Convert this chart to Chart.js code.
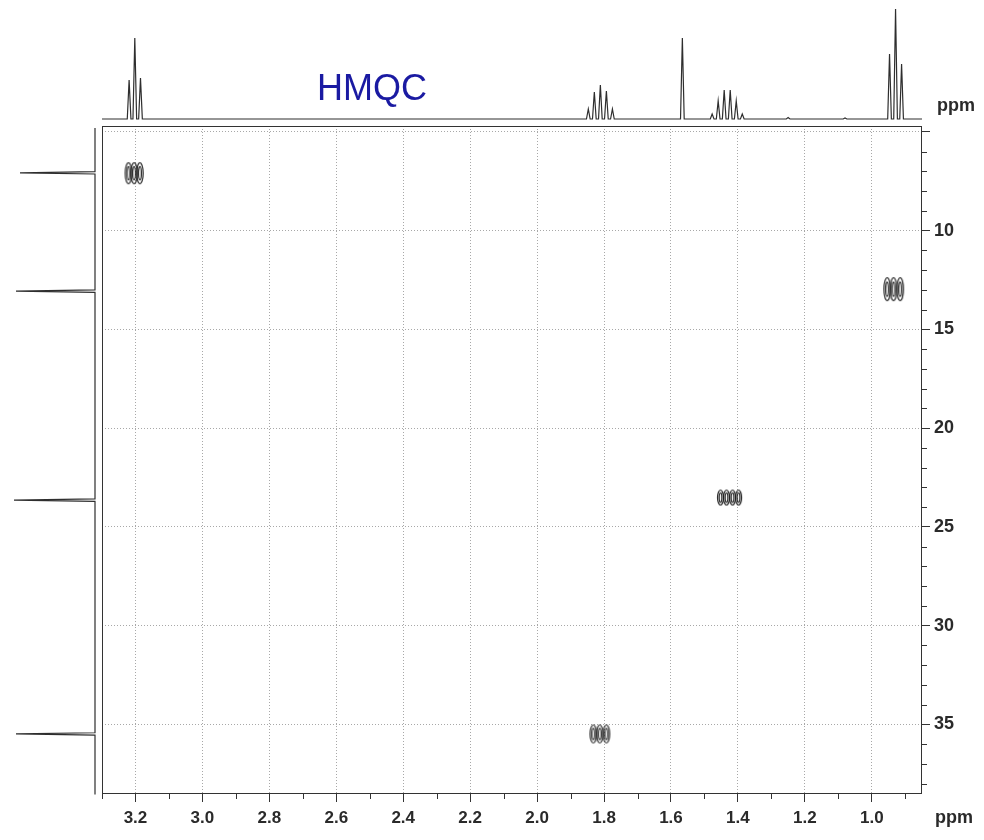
<!DOCTYPE html>
<html>
<head>
<meta charset="utf-8">
<script src="https://cdn.jsdelivr.net/npm/chart.js@4.4.1/dist/chart.umd.min.js"></script>
<style>
  html, body { margin: 0; padding: 0; background: #ffffff; }
  #wrap { position: relative; width: 984px; height: 840px; }
</style>
</head>
<body>
<div id="wrap"><canvas id="c" width="984" height="840"></canvas></div>
<script>
// ---------------- data ----------------
// 1H projection (top): line positions (ppm) and relative heights
const hShifts  = [3.219, 3.202, 3.185, 1.847, 1.829, 1.811, 1.793, 1.775, 1.566,
                  1.477, 1.459, 1.441, 1.423, 1.405, 1.387, 1.25, 1.08, 0.947, 0.929, 0.911];
const hHeights = [39, 81, 41, 10, 27, 34, 28, 10, 81,
                  5, 18, 29, 29, 18, 5, 1.5, 1, 65, 110, 55];
// 13C projection (left): positions (ppm) and relative heights
const cShifts  = [7.07, 13.06, 23.64, 35.48];
const cHeights = [75, 79, 81, 79];
// HMQC cross peaks: carbon shift and the 1H lobe positions of each
const crossC   = [7.09, 12.96, 23.51, 35.48];
const crossH   = [[3.221, 3.204, 3.187], [0.954, 0.935, 0.915],
                  [1.452, 1.434, 1.416, 1.398], [1.832, 1.813, 1.793]];
// axis ticks
const xTickValues = [3.2, 3.0, 2.8, 2.6, 2.4, 2.2, 2.0, 1.8, 1.6, 1.4, 1.2, 1.0];
const yTickValues = [5, 10, 15, 20, 25, 30, 35];
const yTickLabels = ['', '10', '15', '20', '25', '30', '35'];
const titleText = 'HMQC';
const unitText = 'ppm';

// ---------------- build tables for the library ----------------
const X_MIN = 0.85, X_MAX = 3.30, Y_MIN = 4.70, Y_MAX = 38.52;
const H_HW = 0.0055, C_HW = 0.06;

function buildTop() {
  const idx = hShifts.map((_, i) => i).sort((a, b) => hShifts[b] - hShifts[a]);
  const pts = [{x: X_MAX, y: 0}];
  idx.forEach(i => {
    pts.push({x: hShifts[i] + H_HW, y: 0});
    pts.push({x: hShifts[i], y: hHeights[i]});
    pts.push({x: hShifts[i] - H_HW, y: 0});
  });
  pts.push({x: X_MIN, y: 0});
  return pts;
}
function buildLeft() {
  const pts = [{x: 0, y: 4.8}];
  cShifts.forEach((c, i) => {
    pts.push({x: 0, y: c - C_HW});
    pts.push({x: cHeights[i], y: c});
    pts.push({x: 0, y: c + C_HW});
  });
  pts.push({x: 0, y: 38.55});
  return pts;
}

function lobe(w, h) {
  const c = document.createElement('canvas');
  c.width = Math.ceil(w) + 3; c.height = Math.ceil(h) + 3;
  const g = c.getContext('2d');
  g.strokeStyle = '#222'; g.lineWidth = 1.2;
  g.beginPath(); g.ellipse(c.width / 2, c.height / 2, w / 2, h / 2, 0, 0, Math.PI * 2); g.stroke();
  g.beginPath(); g.ellipse(c.width / 2, c.height / 2, w / 4.5, h / 3.2, 0, 0, Math.PI * 2); g.stroke();
  return c;
}
const lobeStyles = [lobe(6.5, 21), lobe(6.5, 23), lobe(6, 15), lobe(6.5, 18)];

const crossSets = crossH.map((list, k) => ({
  label: 'cross' + k,
  data: list.map(h => ({x: h, y: crossC[k]})),
  xAxisID: 'x', yAxisID: 'y',
  showLine: false,
  pointStyle: lobeStyles[k],
  pointRadius: 3,
  pointHoverRadius: 3
}));

const decor = {
  id: 'decor',
  afterDraw(chart) {
    const {ctx, chartArea: a, scales} = chart;
    ctx.save();
    // frame
    ctx.strokeStyle = '#333'; ctx.lineWidth = 1;
    ctx.strokeRect(Math.round(a.left) + 0.5, Math.round(a.top) + 0.5,
                   Math.round(a.right - a.left) - 1, Math.round(a.bottom - a.top) - 1);
    // minor ticks
    ctx.beginPath();
    for (let k = 9; k <= 33; k++) {
      if (k % 2 === 0) continue;
      const px = Math.round(scales.x.getPixelForValue(k / 10)) + 0.5;
      ctx.moveTo(px, a.bottom); ctx.lineTo(px, a.bottom + 5);
    }
    for (let k = 5; k <= 38; k++) {
      if (k % 5 === 0) continue;
      const py = Math.round(scales.y.getPixelForValue(k)) + 0.5;
      ctx.moveTo(a.right, py); ctx.lineTo(a.right + 5, py);
    }
    ctx.stroke();
    // texts
    ctx.fillStyle = '#1a1aa2';
    ctx.font = '36px "Liberation Sans", Arial, sans-serif';
    ctx.textAlign = 'center'; ctx.textBaseline = 'middle';
    ctx.fillText(titleText, 372, 90);
    ctx.fillStyle = '#2a2a2a';
    ctx.font = 'bold 18px "Liberation Sans", Arial, sans-serif';
    ctx.textAlign = 'left'; ctx.textBaseline = 'alphabetic';
    ctx.fillText(unitText, 937, 111);
    ctx.fillText(unitText, 935, 823);
    ctx.restore();
  }
};

new Chart(document.getElementById('c'), {
  type: 'scatter',
  data: {
    datasets: [
      {
        label: '1H',
        data: buildTop(),
        xAxisID: 'x', yAxisID: 'yTop',
        showLine: true, pointRadius: 0, borderColor: '#2e2e2e', borderWidth: 1.2,
        tension: 0, clip: false
      },
      {
        label: '13C',
        data: buildLeft(),
        xAxisID: 'xLeft', yAxisID: 'y', indexAxis: 'y',
        showLine: true, pointRadius: 0, borderColor: '#2e2e2e', borderWidth: 1.2,
        tension: 0, clip: false
      },
      ...crossSets
    ]
  },
  options: {
    responsive: false,
    animation: false,
    events: [],
    layout: { padding: { left: 102, top: 126, right: 0, bottom: 0 } },
    plugins: { legend: { display: false }, tooltip: { enabled: false } },
    scales: {
      x: {
        type: 'linear', position: 'bottom', reverse: true, min: X_MIN, max: X_MAX,
        afterBuildTicks: s => { s.ticks = xTickValues.map(v => ({value: v})); },
        afterFit: s => { s.height = 46; },
        ticks: {
          callback: v => Number(v).toFixed(1), autoSkip: false, maxRotation: 0,
          font: { family: '"Liberation Sans", Arial, sans-serif', size: 17, weight: 'bold' },
          color: '#2a2a2a', padding: 6
        },
        grid: { color: '#a8a8a8', lineWidth: 1, tickLength: 8, tickColor: '#333', tickWidth: 1 },
        border: { display: false, dash: [1, 2] }
      },
      y: {
        type: 'linear', position: 'right', reverse: true, min: Y_MIN, max: Y_MAX,
        afterBuildTicks: s => { s.ticks = yTickValues.map(v => ({value: v})); },
        afterFit: s => { s.width = 62; },
        ticks: {
          callback: (v, i) => yTickLabels[i], autoSkip: false,
          font: { family: '"Liberation Sans", Arial, sans-serif', size: 18, weight: 'bold' },
          color: '#2a2a2a', padding: 4
        },
        grid: { color: '#a8a8a8', lineWidth: 1, tickLength: 8, tickColor: '#333', tickWidth: 1 },
        border: { display: false, dash: [1, 2] }
      },
      yTop: { type: 'linear', display: false, position: 'left', min: -675, max: -7 },
      xLeft: { type: 'linear', display: false, position: 'bottom', reverse: true, min: -827, max: -7 }
    }
  },
  plugins: [decor]
});
</script>
</body>
</html>
